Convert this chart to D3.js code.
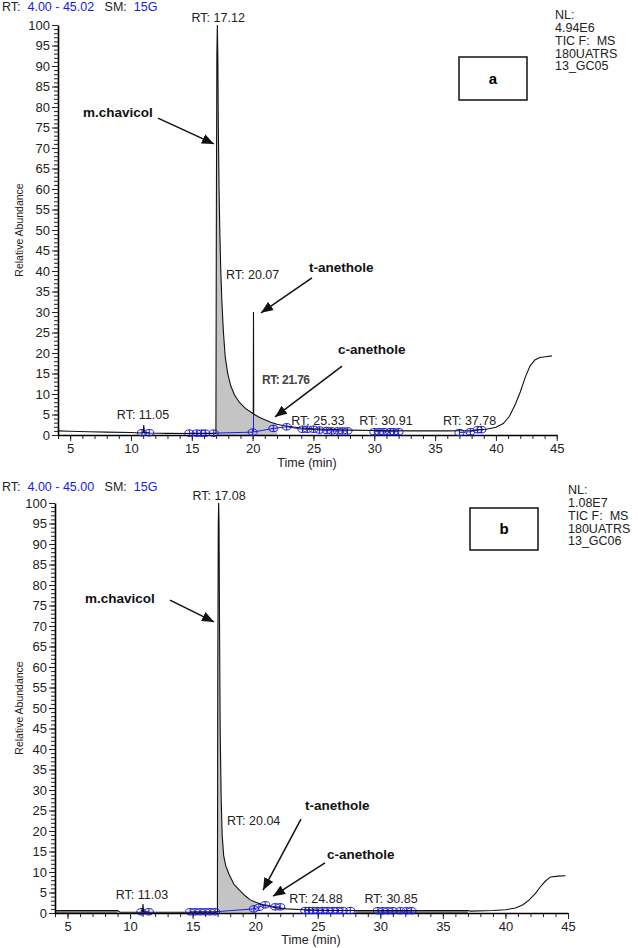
<!DOCTYPE html>
<html>
<head>
<meta charset="utf-8">
<script src="https://cdn.jsdelivr.net/npm/d3@7"></script>
<style>
  body { margin: 0; background: #fff; }
  text { font-family: "Liberation Sans", Arial, sans-serif; }
</style>
</head>
<body>
<svg id="chart" width="638" height="948"></svg>
<script>
// ---- data (time in min, relative abundance in %) ----

// panel a trace
var traceA = [
  [4.0, 1.0], [5, 0.9], [6.5, 0.8], [8, 0.7], [10.0, 0.6], [10.9, 0.5], [11.0, 0.6], [11.05, 2.4], [11.1, 0.6],
  [11.5, 0.5], [13, 0.4], [15, 0.35], [16.98, 0.35],
  [17.02, 55], [17.06, 93], [17.1, 100], [17.14, 92], [17.18, 75], [17.24, 60], [17.3, 50], [17.38, 40],
  [17.48, 32], [17.6, 25], [17.75, 19], [17.95, 15], [18.2, 12], [18.5, 9.8], [18.9, 8], [19.4, 6.5],
  [20.0, 5.3], [20.05, 5.2], [20.07, 30], [20.09, 5.1], [20.5, 4.4], [21, 3.7], [21.5, 3.1], [22, 2.6],
  [22.5, 2.3], [23.2, 2.0], [24, 1.7], [25, 1.5], [26, 1.4], [28, 1.2], [30, 1.1], [33, 1.0], [36, 1.0],
  [38, 1.1], [39.2, 1.4], [40, 1.9], [40.6, 2.8], [41.1, 4.5], [41.6, 7.5], [42, 10.5], [42.4, 14],
  [42.8, 16.8], [43.2, 18.3], [43.6, 18.9], [44.1, 19.1], [44.6, 19.3]
];

// panel b trace
var traceB = [
  [4.0, 0.6], [6, 0.6], [9, 0.6], [9.2, 0.2], [10.5, 0.2], [10.98, 0.2], [11.03, 2.2], [11.08, 0.2],
  [13, 0.2], [15, 0.2], [16.98, 0.2],
  [17.01, 60], [17.05, 95], [17.08, 100], [17.11, 95], [17.15, 70], [17.2, 45], [17.28, 28], [17.36, 19],
  [17.48, 14], [17.65, 11.5], [17.9, 9.5], [18.3, 7.0], [18.7, 5.7], [19.2, 4.2], [19.6, 3.2], [20.04, 2.6],
  [20.5, 2.1], [21, 1.7], [21.6, 1.3], [22.5, 1.0], [24, 0.8], [26, 0.6], [28, 0.6], [32, 0.6], [37, 0.6],
  [37.2, 0.45], [39, 0.6], [40, 0.8], [40.8, 1.2], [41.4, 2.0], [41.9, 3.2], [42.4, 4.8], [42.8, 6.4],
  [43.2, 7.8], [43.6, 8.8], [44.2, 9.0], [44.8, 9.1]
];

// shaded (integrated) regions
var fillA = [[16.98, 22.0]];
var fillB = [[16.98, 20.04]];
var bandB = [[4.0, 9.0], [28, 37]];

// blue peak-detection markers, grouped by connecting line
var markersA = [
  [[10.9, 0.55], [11.5, 0.55]],
  [[14.8, 0.45], [15.4, 0.45], [15.8, 0.45], [16.1, 0.45], [16.8, 0.45], [20.0, 0.7], [21.7, 1.6], [22.8, 2.0],
   [24.1, 1.4], [24.5, 1.4], [25.0, 1.4], [25.5, 1.2], [26.1, 1.1], [26.5, 1.0], [27.0, 1.0], [27.4, 1.0], [27.8, 1.0]],
  [[30.0, 0.8], [30.4, 0.8], [30.8, 0.8], [31.3, 0.8], [31.6, 0.8], [32.0, 0.8]],
  [[37.0, 0.6], [37.9, 0.8], [38.5, 1.3], [38.8, 1.3]]
];
var markersB = [
  [[10.9, 0.3], [11.5, 0.3]],
  [[14.8, 0.3], [15.2, 0.3], [15.6, 0.3], [16.0, 0.3], [16.4, 0.3], [16.8, 0.3], [19.9, 1.0], [20.3, 1.4],
   [20.8, 2.0], [21.6, 1.5], [22.0, 1.5]],
  [[24.0, 0.6], [24.3, 0.6], [24.6, 0.6], [25.0, 0.6], [25.4, 0.6], [25.8, 0.6], [26.2, 0.6], [26.6, 0.6],
   [27.0, 0.6], [27.6, 0.6]],
  [[29.8, 0.55], [30.2, 0.55], [30.6, 0.55], [31.0, 0.55], [31.6, 0.55], [32.1, 0.55], [32.5, 0.55]]
];

// blue drop lines [time, from, to]
var dropsA = [[20.07, 0.7, 5.1]];
var dropsB = [];

// retention-time labels [text, time, abundance, anchor]
var rtA = [
  ["RT: 17.12", 17.17, 100.7, "middle"],
  ["RT: 20.07", 17.81, 38.0, "start"],
  ["RT: 11.05", 10.99, 3.9, "middle"],
  ["RT: 25.33", 25.37, 2.4, "middle"],
  ["RT: 30.91", 30.96, 2.4, "middle"],
  ["RT: 37.78", 37.83, 2.4, "middle"]
];
var rtB = [
  ["RT: 17.08", 17.11, 100.7, "middle"],
  ["RT: 20.04", 17.75, 21.5, "start"],
  ["RT: 11.03", 10.95, 3.4, "middle"],
  ["RT: 24.88", 24.86, 2.4, "middle"],
  ["RT: 30.85", 30.86, 2.4, "middle"]
];
// odd bold label in panel a
var rtBoldA = [["RT: 21.76", 20.77, 12.4]];

// compound annotations [label, textTime, textAbund, arrowFromTime, arrowFromAbund, arrowToTime, arrowToAbund]
var notesA = [
  ["m.chavicol", 6.06, 77.6, 12.22, 77.3, 16.82, 71.0],
  ["t-anethole", 24.63, 39.8, 24.88, 38.3, 20.69, 29.8],
  ["c-anethole", 27.02, 19.8, 27.35, 16.8, 21.84, 4.4]
];
var notesB = [
  ["m.chavicol", 6.40, 75.6, 13.19, 76.3, 16.71, 71.0],
  ["t-anethole", 23.98, 25.1, 23.66, 22.9, 20.63, 5.6],
  ["c-anethole", 25.74, 13.2, 25.58, 12.2, 21.43, 4.1]
];

// header and instrument text
var headA = ["4.00 - 45.02", "15G"];
var headB = ["4.00 - 45.00", "15G"];
var nlA = ["NL:", "4.94E6", "TIC F:  MS", "180UATRS", "13_GC05"];
var nlB = ["NL:", "1.08E7", "TIC F:  MS", "180UATRS", "13_GC06"];
var yTicks = d3.range(0, 101, 5);
var xTicks = d3.range(5, 46, 5);

var panels = [
  { trace: traceA, fills: fillA, bands: [], markers: markersA, drops: dropsA, rt: rtA, rtBold: rtBoldA,
    notes: notesA, head: headA, nl: nlA, letter: "a", xMax: 45.02,
    top: 25, bottom: 435, left: 58, right: 557, headY: 11, nlX: 555, nlY: 19,
    box: [459, 57, 68, 43], timeXY: [307, 467] },
  { trace: traceB, fills: fillB, bands: bandB, markers: markersB, drops: dropsB, rt: rtB, rtBold: [],
    notes: notesB, head: headB, nl: nlB, letter: "b", xMax: 45.00,
    top: 503, bottom: 913, left: 55, right: 568, headY: 491, nlX: 568, nlY: 494,
    box: [470, 508, 68, 42], timeXY: [311, 944] }
];

var svg = d3.select("#chart");
var blue = "#1c1ce0";

// arrow head
svg.append("defs").append("marker")
    .attr("id", "head")
    .attr("markerUnits", "userSpaceOnUse")
    .attr("markerWidth", 13).attr("markerHeight", 10)
    .attr("refX", 12).attr("refY", 5)
    .attr("orient", "auto")
  .append("path")
    .attr("d", "M0,0 L12,5 L0,10 Z")
    .attr("fill", "#111");

panels.forEach(function (p) {
    var x = d3.scaleLinear().domain([4, p.xMax]).range([p.left, p.right]);
    var y = d3.scaleLinear().domain([0, 100]).range([p.bottom, p.top]);
    var g = svg.append("g");

    // header line
    var h = g.append("text").attr("x", 2).attr("y", p.headY).attr("font-size", 12.5)
        .attr("xml:space", "preserve");
    h.append("tspan").attr("fill", "#222").text("RT:  ");
    h.append("tspan").attr("fill", blue).text(p.head[0]);
    h.append("tspan").attr("fill", "#222").text("   SM:  ");
    h.append("tspan").attr("fill", blue).text(p.head[1]);

    // shaded areas under the trace
    var area = d3.area().x(d => x(d[0])).y0(y(0)).y1(d => y(d[1]));
    p.fills.forEach(function (r) {
        g.append("path")
            .datum(p.trace.filter(d => d[0] >= r[0] && d[0] <= r[1]))
            .attr("d", area).attr("fill", "#c4c4c4");
    });
    p.bands.forEach(function (r) {
        g.append("path")
            .datum(p.trace.filter(d => d[0] >= r[0] && d[0] <= r[1]))
            .attr("d", area).attr("fill", "#7a7a7a");
    });

    // axes: minor then major ticks
    g.append("g").attr("transform", `translate(${p.left},0)`)
        .call(d3.axisLeft(y).tickValues(d3.range(0, 101, 1)).tickSize(4).tickSizeOuter(0).tickFormat(""))
        .call(a => a.select(".domain").remove());
    g.append("g").attr("transform", `translate(0,${p.bottom})`)
        .call(d3.axisBottom(x).tickValues(d3.range(4, 46, 1)).tickSize(4).tickSizeOuter(0).tickFormat(""))
        .call(a => a.select(".domain").remove());

    var ya = g.append("g").attr("transform", `translate(${p.left},0)`)
        .call(d3.axisLeft(y).tickValues(yTicks).tickSize(6).tickSizeOuter(0).tickPadding(2));
    var xa = g.append("g").attr("transform", `translate(0,${p.bottom})`)
        .call(d3.axisBottom(x).tickValues(xTicks).tickSize(6).tickSizeOuter(0).tickPadding(3));
    [ya, xa].forEach(function (a) {
        a.selectAll("text").attr("font-size", 13).attr("fill", "#222")
            .attr("font-family", "Liberation Sans, Arial, sans-serif");
        a.select(".domain").attr("stroke-width", 1.6);
    });
    g.selectAll(".tick line").attr("stroke", "#222");

    // axis titles
    g.append("text")
        .attr("transform", `translate(23,${(p.top + p.bottom) / 2}) rotate(-90)`)
        .attr("text-anchor", "middle").attr("font-size", 10.5).attr("fill", "#222")
        .text("Relative Abundance");
    g.append("text")
        .attr("x", p.timeXY[0]).attr("y", p.timeXY[1])
        .attr("text-anchor", "middle").attr("font-size", 12.5).attr("fill", "#222")
        .text("Time (min)");

    // blue baseline links and markers
    var line = d3.line().x(d => x(d[0])).y(d => y(d[1]));
    p.markers.forEach(function (grp) {
        g.append("path").datum(grp).attr("d", line)
            .attr("fill", "none").attr("stroke", blue).attr("stroke-width", 1);
        g.selectAll(null).data(grp).enter().append("ellipse")
            .attr("cx", d => x(d[0])).attr("cy", d => y(d[1]))
            .attr("rx", 4.5).attr("ry", 3.2)
            .attr("fill", "none").attr("stroke", blue).attr("stroke-width", 1);
        g.selectAll(null).data(grp).enter().append("line")
            .attr("x1", d => x(d[0])).attr("x2", d => x(d[0]))
            .attr("y1", d => y(d[1]) - 3.5).attr("y2", d => y(d[1]) + 3.5)
            .attr("stroke", blue).attr("stroke-width", 1);
    });
    p.drops.forEach(function (d) {
        g.append("line")
            .attr("x1", x(d[0])).attr("x2", x(d[0]))
            .attr("y1", y(d[1])).attr("y2", y(d[2]))
            .attr("stroke", blue).attr("stroke-width", 1);
    });

    // chromatogram trace
    g.append("path").datum(p.trace).attr("d", line)
        .attr("fill", "none").attr("stroke", "#111").attr("stroke-width", 1.1);

    // retention time labels
    g.selectAll(null).data(p.rt).enter().append("text")
        .attr("x", d => x(d[1])).attr("y", d => y(d[2]))
        .attr("text-anchor", d => d[3])
        .attr("font-size", 12.5).attr("fill", "#222")
        .text(d => d[0]);
    g.selectAll(null).data(p.rtBold).enter().append("text")
        .attr("x", d => x(d[1])).attr("y", d => y(d[2]))
        .attr("font-size", 12).attr("font-weight", "bold").attr("letter-spacing", -0.5)
        .attr("fill", "#444")
        .text(d => d[0]);

    // compound annotations with arrows
    g.selectAll(null).data(p.notes).enter().append("text")
        .attr("x", d => x(d[1])).attr("y", d => y(d[2]))
        .attr("font-size", 13.5).attr("font-weight", "bold").attr("fill", "#111")
        .text(d => d[0]);
    g.selectAll(null).data(p.notes).enter().append("line")
        .attr("x1", d => x(d[3])).attr("y1", d => y(d[4]))
        .attr("x2", d => x(d[5])).attr("y2", d => y(d[6]))
        .attr("stroke", "#111").attr("stroke-width", 1.5)
        .attr("marker-end", "url(#head)");

    // panel letter box
    g.append("rect")
        .attr("x", p.box[0]).attr("y", p.box[1]).attr("width", p.box[2]).attr("height", p.box[3])
        .attr("fill", "none").attr("stroke", "#111").attr("stroke-width", 1.5);
    g.append("text")
        .attr("x", p.box[0] + p.box[2] / 2).attr("y", p.box[1] + p.box[3] / 2 + 5)
        .attr("text-anchor", "middle").attr("font-size", 15).attr("font-weight", "bold")
        .text(p.letter);

    // instrument info block
    g.selectAll(null).data(p.nl).enter().append("text")
        .attr("x", p.nlX)
        .attr("y", (d, i) => p.nlY + i * 12.5 + (i > 1 ? 1 : 0))
        .attr("font-size", 12.5).attr("fill", "#222")
        .attr("xml:space", "preserve")
        .text(d => d);
});
</script>
</body>
</html>
